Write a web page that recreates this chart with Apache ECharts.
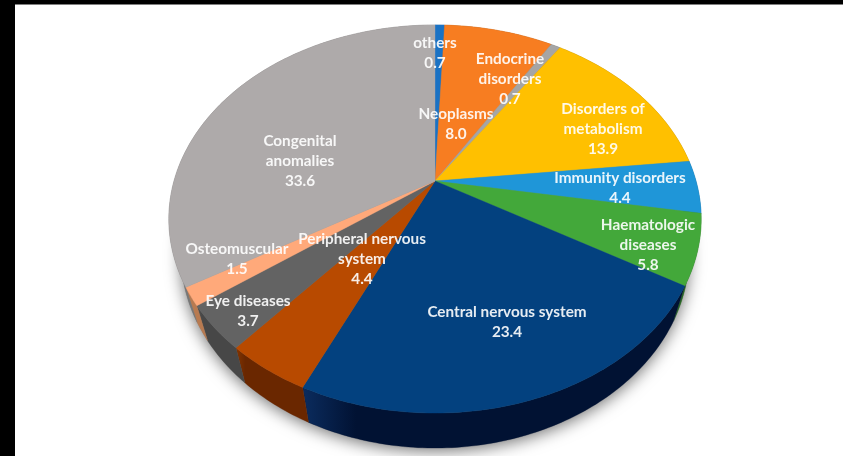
<!DOCTYPE html>
<html><head><meta charset="utf-8">
<style>html,body{margin:0;padding:0;background:#fff}#c{width:843px;height:456px;filter:blur(0.7px)}</style>
<script src="https://cdn.jsdelivr.net/npm/echarts@6/dist/echarts.min.js"></script>
</head><body><div id="c"></div>
<script>
const categories = ['others','Neoplasms','Endocrine\ndisorders','Disorders of\nmetabolism','Immunity disorders','Haematologic\ndiseases','Central nervous system','Peripheral nervous\nsystem','Eye diseases','Osteomuscular','Congenital\nanomalies'];
const values = [0.7,8.0,0.7,13.9,4.4,5.8,23.4,4.4,3.7,1.5,33.6];
const topColors = ['#1a72c4','#f77d21','#a5a5a5','#ffc000','#1f96d8','#43a83a','#03417f','#b84a00','#636363','#ffa97a','#aeaaaa'];
const wallColors = [['#10467a','#10467a'],['#a0500f','#a0500f'],['#666','#666'],['#a07800','#a07800'],['#125c86','#125c86'],['#2a6a24','#2a6a24'],['#0b2c5e','#011233'],['#843500','#6a2700'],['#505050','#474747'],['#c8855a','#b87a50'],['#777','#777']];
const labelPos = [[435,53],[456,124],[510,79],[603,129],[620,188],[648,245],[507,322],[362,259],[248,311],[237,259],[300,161]];

const CX=435, CY=181, D=261, A=186.6, C=-0.196, DEPTH=35, SHRINK=0.955;
const total = values.reduce((a,b)=>a+b,0);
const cum = values.reduce((a,v)=>{a.push(a[a.length-1]+v);return a;},[0]);
function proj(frac){
  const t=frac/total*2*Math.PI, X=Math.sin(t), Y=-Math.cos(t), w=1+C*Y;
  return [CX+D*X/w, CY+A*Y/w];
}
function low(p){return [CX+SHRINK*(p[0]-CX), p[1]+DEPTH];}
function arc(a,b){
  const n=Math.max(2,Math.ceil((b-a)*4)), out=[];
  for(let i=0;i<=n;i++) out.push(proj(a+(b-a)*i/n));
  return out;
}
const seriesData = values.map((v,i)=>({name:categories[i],value:[i,v]}));
const chart = echarts.init(document.getElementById('c'),null,{renderer:'canvas'});
chart.setOption({
  animation:false,
  graphic:[
    {type:'rect',z:100,shape:{x:0,y:0,width:15,height:456},style:{fill:'#000'}},
    {type:'rect',z:100,shape:{x:0,y:0,width:843,height:4.5},style:{fill:'#000'}}
  ],
  series:[
    {type:'custom',coordinateSystem:'none',z:1,silent:true,data:[{name:'shadow',value:[0]}],
     renderItem(){
       const top=arc(0,total), bot=top.map(low);
       return {type:'group',children:[
         {type:'polygon',shape:{points:bot},style:{fill:'#888',shadowBlur:16,shadowColor:'rgba(0,0,0,0.55)',shadowOffsetY:3}}
       ]};
     }},
    {type:'custom',coordinateSystem:'none',z:2,silent:true,data:seriesData,
     renderItem(params,api){
       const i=api.value(0), pts=arc(cum[i],cum[i]+api.value(1));
       const xs=pts.map(p=>p[0]), x0=Math.min(...xs), x1=Math.max(...xs);
       return {type:'polygon',shape:{points:pts.concat(pts.slice().reverse().map(low))},
         style:{fill:new echarts.graphic.LinearGradient(x0,0,x1,0,[{offset:0,color:wallColors[i][0]},{offset:0.14,color:wallColors[i][1]},{offset:1,color:wallColors[i][1]}],true),stroke:wallColors[i][1],lineWidth:0.3}};
     }},
    {type:'custom',coordinateSystem:'none',z:3,silent:true,data:seriesData,
     renderItem(params,api){
       const i=api.value(0), pts=arc(cum[i],cum[i]+api.value(1));
       return {type:'polygon',shape:{points:[[CX,CY]].concat(pts)},style:{fill:topColors[i],stroke:topColors[i],lineWidth:0.4}};
     }},
    {type:'custom',coordinateSystem:'none',z:4,silent:true,data:seriesData,
     renderItem(params,api){
       const i=api.value(0);
       return {type:'text',x:labelPos[i][0],y:labelPos[i][1],
         style:{text:categories[i]+'\n'+api.value(1).toFixed(1),fill:'rgba(255,255,255,0.9)',font:'bold 15.3px Lato',lineHeight:20,align:'center',verticalAlign:'middle'}};
     }}
  ]
});
</script></body></html>
